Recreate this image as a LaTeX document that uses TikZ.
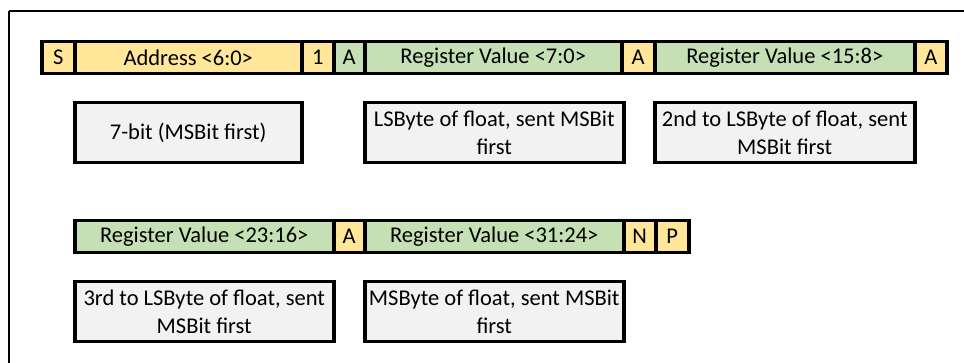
\documentclass[tikz,border=0pt]{standalone}
\usepackage{fontspec}
\setmainfont{Carlito}
\definecolor{cyel}{HTML}{FFE699}
\definecolor{cgrn}{HTML}{C5E0B4}
\definecolor{cbox}{HTML}{F2F2F2}
\begin{document}
\begin{tikzpicture}[x=1pt,y=-1pt,
  cell/.style={draw=black,line width=3.5pt,anchor=north west,minimum height=32pt,inner sep=0pt,font=\fontsize{22.5}{27}\selectfont},
  ycell/.style={cell,fill=cyel},
  gcell/.style={cell,fill=cgrn},
  note/.style={draw=black,line width=3.5pt,fill=cbox,anchor=north west,minimum height=60pt,inner sep=0pt,align=center,font=\fontsize{22.5}{28.5}\selectfont}]
\useasboundingbox (0,0) rectangle (964,363);
\draw[line width=1.2pt] (964,11) -- (9,11);
\draw[line width=2pt] (9,11) -- (9,363);
% row 1
\node[ycell,minimum width=33pt] (s) at (40,40) {S};
\node[ycell,minimum width=227pt] (addr) at (73,40) {Address <6:0>};
\node[ycell,minimum width=32pt] (one) at (300,40) {1};
\node[gcell,minimum width=31pt] (a1) at (332,40) {A};
\node[gcell,minimum width=257pt] (rv0) at (363,40) {Register Value <7:0>};
\node[ycell,minimum width=33pt] (a2) at (620,40) {A};
\node[gcell,minimum width=260pt] (rv1) at (653,40) {Register Value <15:8>};
\node[ycell,minimum width=32pt] (a3) at (913,40) {A};
% notes row 1
\node[note,minimum width=227pt] (n1) at (73,101) {7-bit (MSBit first)};
\node[note,minimum width=259pt] (n2) at (363,101) {LSByte of float, sent MSBit\\first};
\node[note,minimum width=260pt] (n3) at (653,101) {2nd to LSByte of float, sent\\MSBit first};
% row 2
\node[gcell,minimum width=259pt] (rv2) at (73,219) {Register Value <23:16>};
\node[ycell,minimum width=31pt] (a4) at (332,219) {A};
\node[gcell,minimum width=259pt] (rv3) at (363,219) {Register Value <31:24>};
\node[ycell,minimum width=32pt] (nn) at (622,219) {N};
\node[ycell,minimum width=33pt] (pp) at (654,219) {P};
% notes row 2
\node[note,minimum width=259pt] (n4) at (73,280) {3rd to LSByte of float, sent\\MSBit first};
\node[note,minimum width=259pt] (n5) at (363,280) {MSByte of float, sent MSBit\\first};
\end{tikzpicture}
\end{document}
